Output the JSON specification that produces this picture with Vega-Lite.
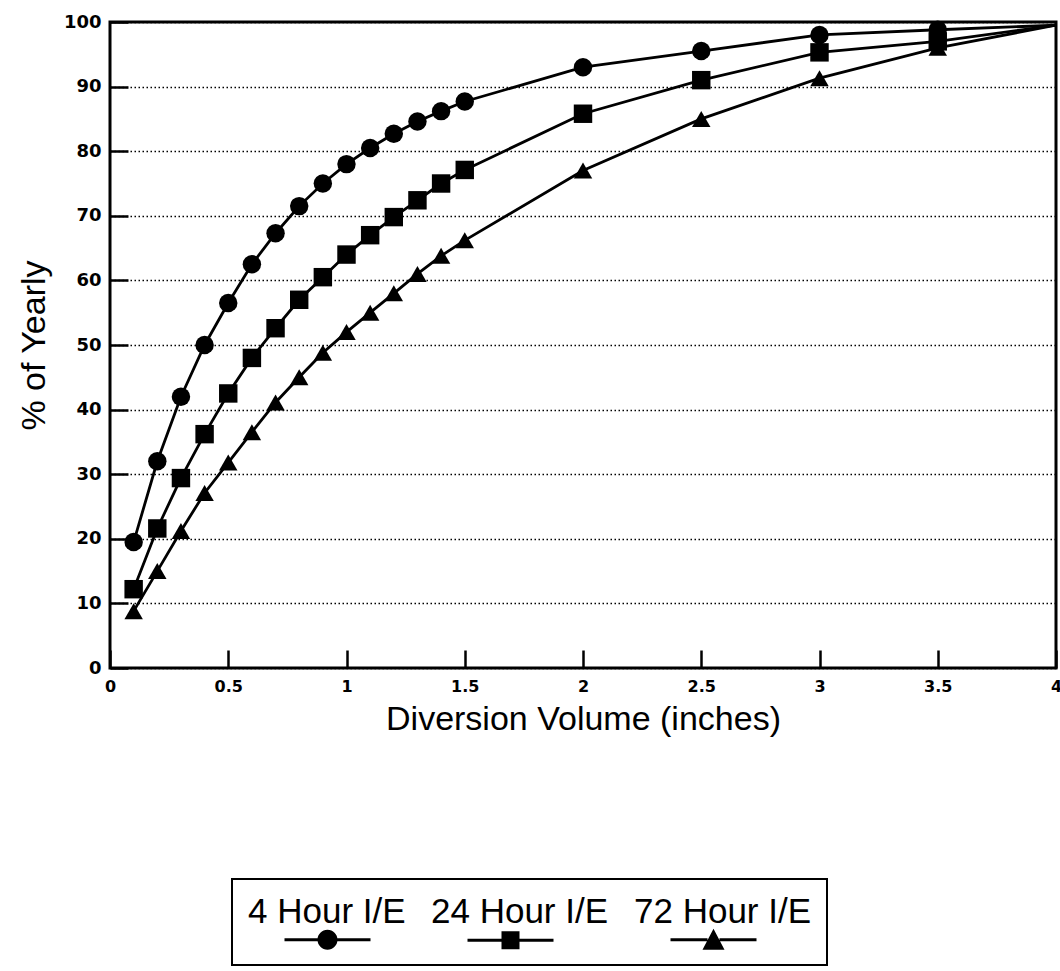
{
  "$schema": "https://vega.github.io/schema/vega-lite/v6.json",
  "autosize": {"type": "none"},
  "padding": {"left": 110, "top": 22, "right": 4, "bottom": 303},
  "width": 946,
  "height": 646,
  "background": "white",
  "data": {"values": [
    {"s": "4 Hour I/E", "x": 0.1, "y": 19.5},
    {"s": "4 Hour I/E", "x": 0.2, "y": 32},
    {"s": "4 Hour I/E", "x": 0.3, "y": 42},
    {"s": "4 Hour I/E", "x": 0.4, "y": 50},
    {"s": "4 Hour I/E", "x": 0.5, "y": 56.5},
    {"s": "4 Hour I/E", "x": 0.6, "y": 62.5},
    {"s": "4 Hour I/E", "x": 0.7, "y": 67.3},
    {"s": "4 Hour I/E", "x": 0.8, "y": 71.5},
    {"s": "4 Hour I/E", "x": 0.9, "y": 75},
    {"s": "4 Hour I/E", "x": 1.0, "y": 78},
    {"s": "4 Hour I/E", "x": 1.1, "y": 80.5},
    {"s": "4 Hour I/E", "x": 1.2, "y": 82.7},
    {"s": "4 Hour I/E", "x": 1.3, "y": 84.6},
    {"s": "4 Hour I/E", "x": 1.4, "y": 86.2},
    {"s": "4 Hour I/E", "x": 1.5, "y": 87.7},
    {"s": "4 Hour I/E", "x": 2.0, "y": 93},
    {"s": "4 Hour I/E", "x": 2.5, "y": 95.5},
    {"s": "4 Hour I/E", "x": 3.0, "y": 98},
    {"s": "4 Hour I/E", "x": 3.5, "y": 98.8},
    {"s": "4 Hour I/E", "x": 4.0, "y": 99.5},
    {"s": "24 Hour I/E", "x": 0.1, "y": 12.2},
    {"s": "24 Hour I/E", "x": 0.2, "y": 21.6},
    {"s": "24 Hour I/E", "x": 0.3, "y": 29.4},
    {"s": "24 Hour I/E", "x": 0.4, "y": 36.2},
    {"s": "24 Hour I/E", "x": 0.5, "y": 42.5},
    {"s": "24 Hour I/E", "x": 0.6, "y": 48},
    {"s": "24 Hour I/E", "x": 0.7, "y": 52.6},
    {"s": "24 Hour I/E", "x": 0.8, "y": 57},
    {"s": "24 Hour I/E", "x": 0.9, "y": 60.5},
    {"s": "24 Hour I/E", "x": 1.0, "y": 64},
    {"s": "24 Hour I/E", "x": 1.1, "y": 67},
    {"s": "24 Hour I/E", "x": 1.2, "y": 69.8},
    {"s": "24 Hour I/E", "x": 1.3, "y": 72.4},
    {"s": "24 Hour I/E", "x": 1.4, "y": 75},
    {"s": "24 Hour I/E", "x": 1.5, "y": 77.1},
    {"s": "24 Hour I/E", "x": 2.0, "y": 85.8},
    {"s": "24 Hour I/E", "x": 2.5, "y": 91},
    {"s": "24 Hour I/E", "x": 3.0, "y": 95.3},
    {"s": "24 Hour I/E", "x": 3.5, "y": 97},
    {"s": "24 Hour I/E", "x": 4.0, "y": 99.5},
    {"s": "72 Hour I/E", "x": 0.1, "y": 8.8},
    {"s": "72 Hour I/E", "x": 0.2, "y": 15},
    {"s": "72 Hour I/E", "x": 0.3, "y": 21.2},
    {"s": "72 Hour I/E", "x": 0.4, "y": 27.1},
    {"s": "72 Hour I/E", "x": 0.5, "y": 31.8},
    {"s": "72 Hour I/E", "x": 0.6, "y": 36.5},
    {"s": "72 Hour I/E", "x": 0.7, "y": 41.1},
    {"s": "72 Hour I/E", "x": 0.8, "y": 45},
    {"s": "72 Hour I/E", "x": 0.9, "y": 48.8},
    {"s": "72 Hour I/E", "x": 1.0, "y": 52},
    {"s": "72 Hour I/E", "x": 1.1, "y": 55},
    {"s": "72 Hour I/E", "x": 1.2, "y": 58},
    {"s": "72 Hour I/E", "x": 1.3, "y": 61},
    {"s": "72 Hour I/E", "x": 1.4, "y": 63.8},
    {"s": "72 Hour I/E", "x": 1.5, "y": 66.2},
    {"s": "72 Hour I/E", "x": 2.0, "y": 77},
    {"s": "72 Hour I/E", "x": 2.5, "y": 85},
    {"s": "72 Hour I/E", "x": 3.0, "y": 91.3},
    {"s": "72 Hour I/E", "x": 3.5, "y": 96},
    {"s": "72 Hour I/E", "x": 4.0, "y": 99.5}
  ]},
  "layer": [
    {
      "mark": {"type": "line", "color": "black", "strokeWidth": 2.8},
      "encoding": {
        "x": {"field": "x", "type": "quantitative", "scale": {"domain": [0, 4], "nice": false},
          "axis": {"values": [0, 0.5, 1, 1.5, 2, 2.5, 3, 3.5, 4], "format": "~g", "title": "Diversion Volume (inches)",
            "offset": -18, "domain": false,
            "ticks": true, "tickSize": 18, "tickWidth": 2.5, "tickColor": "black", "tickOpacity": 1,
            "labelPadding": 10, "titlePadding": 8, "labelFlush": false, "grid": false}},
        "y": {"field": "y", "type": "quantitative", "scale": {"domain": [0, 100], "nice": false},
          "axis": {"values": [0, 5, 10, 15, 20, 25, 30, 35, 40, 45, 50, 55, 60, 65, 70, 75, 80, 85, 90, 95, 100],
            "labelExpr": "datum.value % 10 === 0 ? datum.label : ''",
            "title": "% of Yearly",
            "offset": -18, "domain": false,
            "ticks": true, "tickSize": 18, "tickWidth": 2.5, "tickColor": "black", "tickOpacity": 1,
            "tickDash": {"condition": {"test": "datum.value % 10 === 0", "value": [18, 0]}, "value": [0, 8, 10, 0]},
            "labelPadding": 9, "titlePadding": 12, "labelFlush": false,
            "grid": true, "gridColor": "black", "gridDash": [1.5, 2.5], "gridWidth": 1.3,
            "gridOpacity": {"condition": {"test": "datum.value % 10 === 0", "value": 1}, "value": 0}}},
        "detail": {"field": "s"}
      }
    },
    {
      "transform": [{"filter": "datum.x < 4"}],
      "mark": {"type": "point", "filled": true, "color": "black", "opacity": 1, "size": 340},
      "encoding": {
        "x": {"field": "x", "type": "quantitative"},
        "y": {"field": "y", "type": "quantitative"},
        "shape": {"field": "s", "type": "nominal",
          "scale": {"domain": ["4 Hour I/E", "24 Hour I/E", "72 Hour I/E"], "range": ["circle", "square", "triangle-up"]},
          "legend": null}
      }
    },
    {
      "transform": [{"filter": "datum.x > 100"}],
      "mark": {"type": "point", "filled": true, "color": "black", "opacity": 1},
      "encoding": {
        "x": {"field": "x", "type": "quantitative"},
        "y": {"field": "y", "type": "quantitative"},
        "shape": {"field": "s", "type": "nominal",
          "scale": {"domain": ["4 Hour I/E", "24 Hour I/E", "72 Hour I/E"],
            "range": [
              "M2.0,2.65H5.4V2.95H2.0Z M7.2,2.65H10.6V2.95H7.2Z M5.3,2.8A1,1,0,1,1,7.3,2.8A1,1,0,1,1,5.3,2.8Z",
              "M2.0,2.65H5.4V2.95H2.0Z M7.2,2.65H10.6V2.95H7.2Z M5.4,1.9H7.2V3.7H5.4Z",
              "M2.0,2.65H5.7V2.95H2.0Z M6.9,2.65H10.6V2.95H6.9Z M6.3,1.7L7.4,3.8H5.2Z"
            ]},
          "legend": {"orient": "none", "legendX": 122, "legendY": 857, "direction": "horizontal", "title": null,
            "labelFont": "Liberation Sans", "labelFontSize": 35, "labelColor": "black", "labelLimit": 400,
            "labelOffset": -34, "columnPadding": 24, "padding": 15, "strokeColor": "black",
            "symbolSize": 400, "symbolFillColor": "black", "symbolStrokeColor": "black", "symbolStrokeWidth": 0,
            "symbolOpacity": 1}}
      }
    }
  ],
  "resolve": {"scale": {"shape": "independent"}, "legend": {"shape": "independent"}},
  "config": {
    "view": {"stroke": "black", "strokeWidth": 3},
    "axis": {
      "labelFont": "DejaVu Sans", "labelFontWeight": "bold", "labelColor": "black",
      "titleFont": "Liberation Sans", "titleFontWeight": "normal", "titleFontSize": 34, "titleColor": "black"
    },
    "axisX": {"labelFontSize": 16},
    "axisY": {"labelFontSize": 18},
    "legend": {"strokeWidth": 2}
  }
}
